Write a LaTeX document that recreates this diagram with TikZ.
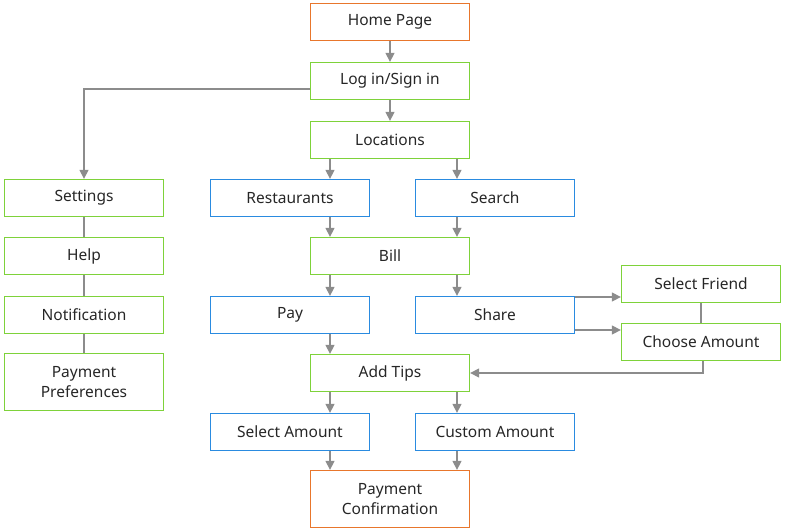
\documentclass[tikz,border=0pt]{standalone}
\usepackage{fontspec}
\setmainfont{Noto Sans}
\usetikzlibrary{arrows.meta}
\definecolor{org}{HTML}{E8762C}
\definecolor{grn}{HTML}{7ED23A}
\definecolor{blu}{HTML}{2A8BE0}
\definecolor{con}{HTML}{8C8C8C}
\begin{document}
\begin{tikzpicture}[x=1pt,y=-1pt,
  box/.style={draw,line width=1.3pt,minimum width=159pt,minimum height=37pt,inner sep=0pt,align=center,font=\fontsize{15.5}{20}\selectfont,text=black!85},
  og/.style={box,draw=org}, gn/.style={box,draw=grn}, bl/.style={box,draw=blu},
  tall/.style={minimum height=57pt},
  ar/.style={draw=con,line width=1.3pt,-{Triangle[length=9pt,width=9pt]}},
  ln/.style={draw=con,line width=1.3pt}]
\useasboundingbox (0,0) rectangle (785,532);
\node[og] (home) at (390,22) {Home Page};
\node[gn] (login) at (390,81) {Log in/Sign in};
\node[gn] (loc) at (390,140) {Locations};
\node[gn] (set) at (84,198) {Settings};
\node[bl] (rest) at (290,198) {Restaurants};
\node[bl] (search) at (495,198) {Search};
\node[gn] (help) at (84,256) {Help};
\node[gn] (bill) at (390,256) {Bill};
\node[gn] (noti) at (84,315) {Notification};
\node[bl] (pay) at (290,315) {Pay};
\node[bl] (share) at (495,315) {Share};
\node[gn] (friend) at (701,284) {Select Friend};
\node[gn] (choose) at (701,342) {Choose Amount};
\node[gn,tall] (pref) at (84,382) {Payment\\Preferences};
\node[gn] (tips) at (390,373) {Add Tips};
\node[bl] (selamt) at (290,432) {Select Amount};
\node[bl] (cust) at (495,432) {Custom Amount};
\node[og,tall] (conf) at (390,499) {Payment\\Confirmation};
\draw[ar] (home) -- (login);
\draw[ar] (login) -- (loc);
\draw[ar] (login.west |- 0,89) -| (set.north);
\draw[ar] (loc.south -| 330,0) -- (rest.north -| 330,0);
\draw[ar] (loc.south -| 457,0) -- (search.north -| 457,0);
\draw[ar] (rest.south -| 330,0) -- (bill.north -| 330,0);
\draw[ar] (search.south -| 457,0) -- (bill.north -| 457,0);
\draw[ar] (bill.south -| 330,0) -- (pay.north -| 330,0);
\draw[ar] (bill.south -| 457,0) -- (share.north -| 457,0);
\draw[ar] (pay.south -| 330,0) -- (tips.north -| 330,0);
\draw[ar] (share.east |- 0,297) -- (friend.west |- 0,297);
\draw[ar] (share.east |- 0,330) -- (choose.west |- 0,330);
\draw[ln] (friend) -- (choose);
\draw[ar] (choose.south -| 703,0) |- (tips.east);
\draw[ar] (tips.south -| 330,0) -- (selamt.north -| 330,0);
\draw[ar] (tips.south -| 457,0) -- (cust.north -| 457,0);
\draw[ar] (selamt.south -| 330,0) -- (conf.north -| 330,0);
\draw[ar] (cust.south -| 457,0) -- (conf.north -| 457,0);
\draw[ln] (set) -- (help);
\draw[ln] (help) -- (noti);
\draw[ln] (noti) -- (pref);
\end{tikzpicture}
\end{document}
